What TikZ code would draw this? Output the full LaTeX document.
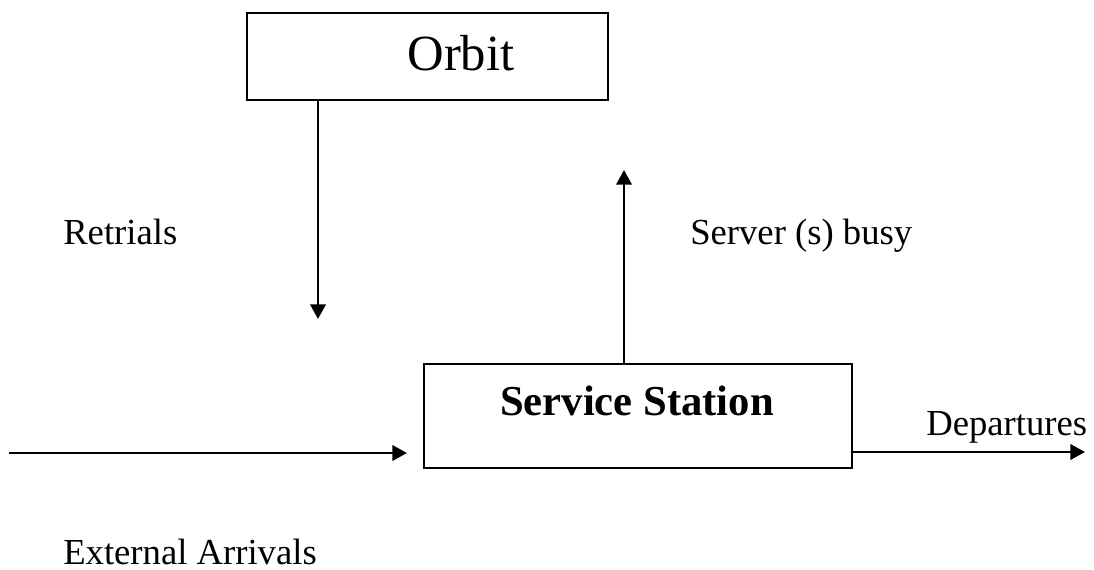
\documentclass[tikz,border=0pt]{standalone}
\usepackage{fontspec}
\setmainfont{Liberation Serif}
\usetikzlibrary{arrows.meta}
\begin{document}
\begin{tikzpicture}[x=0.75pt,y=-0.75pt,
  box/.style={draw, line width=2.1pt, minimum width=#1, inner sep=0pt},
  flow/.style={line width=2.1pt, -{Triangle[length=11pt,width=11.5pt]}},
  lbl/.style={anchor=base west, inner sep=0pt, font=\fontsize{27.5pt}{30pt}\selectfont}]
\useasboundingbox (0,0) rectangle (1094,569);
% boxes
\node[box=270.75pt, minimum height=65.25pt] (orbit) at (427.5,56.5) {};
\node[box=321pt, minimum height=78pt] (station) at (638,416) {};
\node[anchor=base, inner sep=0pt, font=\fontsize{38pt}{40pt}\selectfont] (orbitText) at (461,70) {Orbit};
\node[anchor=base, inner sep=0pt, font=\fontsize{32pt}{34pt}\selectfont\bfseries] (stationText) at (637,415) {Service Station};
% free arrow ends
\coordinate (retryEnd) at (318,319);
\coordinate (busyEnd) at (624,170);
\coordinate (extStart) at (9,453);
\coordinate (extEnd) at (407,453);
\coordinate (depEnd) at (1085,452);
% connectors
\draw[flow] (orbit.south -| retryEnd) -- (retryEnd);
\draw[flow] (station.north -| busyEnd) -- (busyEnd);
\draw[flow] (extStart) -- (extEnd);
\draw[flow] (station.east |- depEnd) -- (depEnd);
% labels
\node[lbl] (retrials) at (63,244) {Retrials};
\node[lbl] (busy) at (690,244) {Server (s) busy};
\node[lbl] (departures) at (926,435) {Departures};
\node[lbl] (arrivals) at (63,564) {External Arrivals};
\end{tikzpicture}
\end{document}
